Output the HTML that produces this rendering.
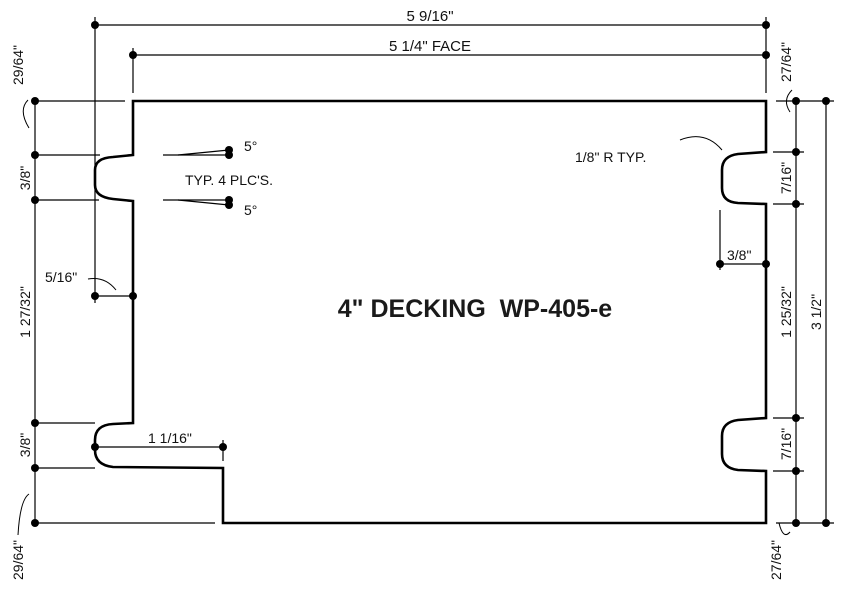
<!DOCTYPE html>
<html><head><style>
html,body{margin:0;padding:0;background:#fff;}
svg{display:block;}
text{font-family:"Liberation Sans",sans-serif;font-size:14px;fill:#111;}
</style></head><body>
<svg width="849" height="600" viewBox="0 0 849 600" xmlns="http://www.w3.org/2000/svg">
<g stroke="#000" stroke-width="1.2" fill="none">
<line x1="95" y1="25" x2="766" y2="25"/>
<line x1="95" y1="17" x2="95" y2="303"/>
<line x1="766" y1="17" x2="766" y2="93"/>
<line x1="133" y1="55" x2="766" y2="55"/>
<line x1="133" y1="48" x2="133" y2="93"/>
<line x1="35" y1="101" x2="35" y2="523"/>
<line x1="35" y1="101" x2="125" y2="101"/>
<line x1="35" y1="155" x2="100" y2="155"/>
<line x1="35" y1="200" x2="99" y2="200"/>
<line x1="35" y1="423" x2="95" y2="423"/>
<line x1="35" y1="468" x2="95" y2="468"/>
<line x1="35" y1="523" x2="215" y2="523"/>
<line x1="95" y1="296" x2="133" y2="296"/>
<line x1="95" y1="447" x2="223" y2="447"/>
<line x1="223" y1="440" x2="223" y2="461"/>
<line x1="163" y1="155" x2="229" y2="155"/>
<line x1="178" y1="155" x2="229" y2="150"/>
<line x1="163" y1="200" x2="229" y2="200"/>
<line x1="178" y1="200" x2="229" y2="205"/>
<line x1="796" y1="101" x2="796" y2="523"/>
<line x1="826" y1="101" x2="826" y2="523"/>
<line x1="776" y1="101" x2="834" y2="101"/>
<line x1="776" y1="523" x2="834" y2="523"/>
<line x1="773" y1="152" x2="804" y2="152"/>
<line x1="773" y1="204" x2="804" y2="204"/>
<line x1="773" y1="418" x2="804" y2="418"/>
<line x1="773" y1="471" x2="804" y2="471"/>
<line x1="720" y1="264" x2="766" y2="264"/>
<line x1="720" y1="210" x2="720" y2="270"/>
<path d="M28 100 Q18 110 29 128" stroke-width="1"/>
<path d="M18 535 Q20 500 29 494" stroke-width="1"/>
<path d="M88 279 Q105 276 116 290" stroke-width="1"/>
<path d="M680 140 Q705 130 722 150" stroke-width="1"/>
<path d="M792 90 Q782 100 790 112" stroke-width="1"/>
<path d="M779 523 Q783 540 790 532" stroke-width="1"/>
</g>
<path d="M133 101 H766 V152 L738 154 Q722 156 722 170 V188 Q722 202 738 203 L766 204 V418 L738 420 Q722 422 722 436 V454 Q722 468 738 470 L766 471 V523 H223 V468 L113 467 Q95 465 95 450 V440 Q95 425 113 424 L133 423 V201 L113 199 Q95 197 95 185 V170 Q95 158 113 157 L133 155 Z" fill="none" stroke="#000" stroke-width="2.6"/>
<g fill="#000">
<circle cx="95" cy="25" r="4"/><circle cx="766" cy="25" r="4"/>
<circle cx="133" cy="55" r="4"/><circle cx="766" cy="55" r="4"/>
<circle cx="35" cy="101" r="4"/><circle cx="35" cy="155" r="4"/><circle cx="35" cy="200" r="4"/>
<circle cx="35" cy="423" r="4"/><circle cx="35" cy="468" r="4"/><circle cx="35" cy="523" r="4"/>
<circle cx="95" cy="296" r="4"/><circle cx="133" cy="296" r="4"/>
<circle cx="95" cy="447" r="4"/><circle cx="223" cy="447" r="4"/>
<circle cx="229" cy="150" r="4"/><circle cx="229" cy="155" r="4"/>
<circle cx="229" cy="200" r="4"/><circle cx="229" cy="205" r="4"/>
<circle cx="796" cy="101" r="4"/><circle cx="826" cy="101" r="4"/>
<circle cx="796" cy="152" r="4"/><circle cx="796" cy="204" r="4"/>
<circle cx="796" cy="418" r="4"/><circle cx="796" cy="471" r="4"/>
<circle cx="796" cy="523" r="4"/><circle cx="826" cy="523" r="4"/>
<circle cx="720" cy="264" r="4"/><circle cx="766" cy="264" r="4"/>
</g>
<text x="430" y="21" text-anchor="middle" style="font-size:15px">5 9/16"</text>
<text x="430" y="51" text-anchor="middle" style="font-size:15px">5 1/4" FACE</text>
<text x="244" y="151">5°</text>
<text x="244" y="215">5°</text>
<text x="185" y="185">TYP. 4 PLC'S.</text>
<text x="45" y="282">5/16"</text>
<text x="148" y="443">1 1/16"</text>
<text x="575" y="162">1/8" R TYP.</text>
<text x="727" y="260">3/8"</text>
<text x="475" y="317" text-anchor="middle" style="font-size:25px;font-weight:bold;fill:#1a1a1a">4" DECKING&#160; WP-405-e</text>
<g>
<text transform="translate(23,65) rotate(-90)" text-anchor="middle">29/64"</text>
<text transform="translate(30,178) rotate(-90)" text-anchor="middle">3/8"</text>
<text transform="translate(30,312) rotate(-90)" text-anchor="middle">1 27/32"</text>
<text transform="translate(30,445) rotate(-90)" text-anchor="middle">3/8"</text>
<text transform="translate(23,560) rotate(-90)" text-anchor="middle">29/64"</text>
<text transform="translate(791,62) rotate(-90)" text-anchor="middle">27/64"</text>
<text transform="translate(791,178) rotate(-90)" text-anchor="middle">7/16"</text>
<text transform="translate(791,312) rotate(-90)" text-anchor="middle">1 25/32"</text>
<text transform="translate(821,312) rotate(-90)" text-anchor="middle">3 1/2"</text>
<text transform="translate(791,444) rotate(-90)" text-anchor="middle">7/16"</text>
<text transform="translate(781,560) rotate(-90)" text-anchor="middle">27/64"</text>
</g>
</svg>
</body></html>
